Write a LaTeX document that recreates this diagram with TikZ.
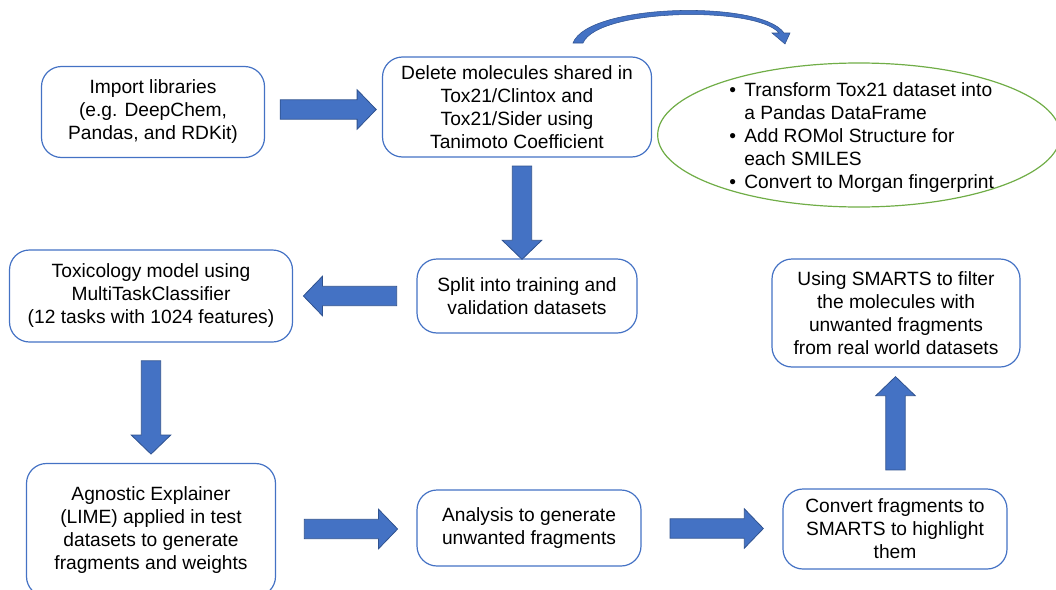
\documentclass[tikz,border=0pt]{standalone}
\usepackage{fontspec}
\setmainfont{Liberation Sans}
\usetikzlibrary{calc,shapes.arrows,shapes.geometric}
\definecolor{boxblue}{RGB}{68,114,196}
\definecolor{arrowblue}{RGB}{68,114,196}
\definecolor{arrowedge}{RGB}{47,82,143}
\definecolor{ovalgreen}{RGB}{112,173,71}
\newcommand{\bul}{\makebox[11.25pt][l]{\textbullet}}
\newcommand{\nobul}{\hspace*{11.25pt}}
\tikzset{
    stepbox/.style={draw=boxblue, line width=0.9pt, rounded corners=15pt, align=center, inner sep=2pt,
        font=\fontsize{14.4pt}{17.25pt}\selectfont},
    fatarrow/.style={single arrow, fill=arrowblue, draw=arrowedge, line width=0.6pt, inner sep=7pt,
        minimum height=70pt, single arrow head extend=7.5pt, single arrow tip angle=92},
}
\begin{document}
\begin{tikzpicture}[x=0.75pt,y=-0.75pt]
                    \useasboundingbox (0,0) rectangle (1056,589);
                    \node[stepbox, minimum width=167.25pt, minimum height=68.25pt] (imp) at (153,112) {Import libraries\\(e.g. DeepChem,\\Pandas, and RDKit)};
                    \node[stepbox, minimum width=201.75pt, minimum height=75pt] (del) at (517,107) {Delete molecules shared in\\Tox21/Clintox and\\Tox21/Sider using\\Tanimoto Coefficient};
                    \node[ellipse, draw=ovalgreen, line width=0.9pt, minimum width=302pt, minimum height=108pt] (prep) at (859,135) {};
                    \node[anchor=west, align=left, inner sep=0pt, font=\fontsize{14.4pt}{17.25pt}\selectfont] (preptext) at (729,138)
                        {\bul Transform Tox21 dataset into\\\nobul a Pandas DataFrame\\\bul Add ROMol Structure for\\\nobul each SMILES\\\bul Convert to Morgan fingerprint};
                    \node[stepbox, minimum width=212.25pt, minimum height=69pt] (tox) at (151,296) {Toxicology model using\\MultiTaskClassifier\\(12 tasks with 1024 features)};
                    \node[stepbox, minimum width=165pt, minimum height=55.5pt] (split) at (527,296) {Split into training and\\validation datasets};
                    \node[stepbox, minimum width=186pt, minimum height=81pt] (smarts) at (896,313) {Using SMARTS to filter\\the molecules with\\unwanted fragments\\from real world datasets};
                    \node[stepbox, minimum width=186.75pt, minimum height=99.75pt] (lime) at (151,530) {Agnostic Explainer\\(LIME) applied in test\\datasets to generate\\fragments and weights};
                    \node[stepbox, minimum width=168pt, minimum height=57pt] (ana) at (529,528) {Analysis to generate\\unwanted fragments};
                    \node[stepbox, minimum width=168pt, minimum height=60pt] (conv) at (895,529) {Convert fragments to\\SMARTS to highlight\\them};
                    \node[fatarrow, minimum height=72pt] (a1) at ($(imp.east)!0.5!(del.west)$) {};
                    \node[fatarrow, rotate=-90] (a2) at ($(del.south)!0.5!(split.north)$) {};
                    \node[fatarrow, rotate=180] (a3) at ($(split.west)!0.5!(tox.east)$) {};
                    \node[fatarrow, rotate=-90] (a4) at ($(tox.south)!0.5!(lime.north)$) {};
                    \node[fatarrow] (a5) at ($(lime.east)!0.5!(ana.west)$) {};
                    \node[fatarrow] (a6) at ($(ana.east)!0.5!(conv.west)$) {};
                    \node[fatarrow, rotate=90] (a7) at ($(conv.north)!0.5!(smarts.south)$) {};
                    \filldraw[fill=arrowblue, draw=arrowedge, line width=0.4pt] (573,43) .. controls (588,3) and (762,0) .. (784,33)
                        -- (790,33) -- (785,44) -- (772,33) -- (779,33) .. controls (757,6) and (598,8) .. (583,43) -- cycle;
                \end{tikzpicture}
\end{document}
